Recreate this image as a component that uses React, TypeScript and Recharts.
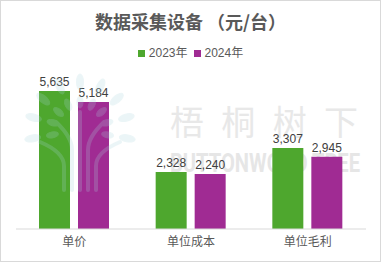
import React from "react";
import { BarChart, Bar, XAxis, YAxis, LabelList } from "recharts";

// Unit economics of data acquisition equipment (yuan per unit)
const categories = ["单价", "单位成本", "单位毛利"];
const values2023 = [5635, 2328, 3307];
const values2024 = [5184, 2240, 2945];
const seriesNames = ["2023年", "2024年"];
const seriesColors = ["#4EA72E", "#A02B93"];

const title = "数据采集设备 （元/台）";
const watermarkCn = "梧桐树下";
const watermarkEn = "BUTTONWOOD TREE";

const data = categories.map((name, i) => ({
  name,
  y2023: values2023[i],
  y2024: values2024[i],
}));

const FONT = '"Liberation Sans", "Noto Sans CJK SC", sans-serif';
const CJK = '"Noto Sans CJK SC", "Liberation Sans", sans-serif';

const fmt = (v: any) => Number(v).toLocaleString("en-US");

// Simplified tree emblem drawn faintly over the first group
function TreeEmblem() {
  const cx = 80;
  const cy = 130;
  const leaves: React.ReactNode[] = [];
  const angles = [-165, -140, -115, -90, -65, -40, -15, 10, 170];
  angles.forEach((a, i) => {
    const r = (a * Math.PI) / 180;
    [28, 48].forEach((d, j) => {
      const x = cx + Math.cos(r) * d;
      const y = cy + Math.sin(r) * d;
      leaves.push(
        <ellipse
          key={`${i}-${j}`}
          cx={x}
          cy={y}
          rx={j ? 8 : 6}
          ry={j ? 3.5 : 3}
          transform={`rotate(${a} ${x} ${y})`}
        />
      );
    });
  });
  return (
    <svg
      width={381}
      height={262}
      style={{ position: "absolute", left: 0, top: 0, pointerEvents: "none" }}
    >
      <g fill="#a9d6de" stroke="#a9d6de" opacity={0.22}>
        {leaves}
        <g fill="none" strokeWidth={4} strokeLinecap="round">
          <path d={`M${cx - 8} 190 L${cx - 8} 150 Q${cx - 8} 137 ${cx - 24} 122`} />
          <path d={`M${cx} 190 L${cx} 112`} />
          <path d={`M${cx + 8} 190 L${cx + 8} 150 Q${cx + 8} 137 ${cx + 24} 122`} />
          <path d={`M${cx - 16} 190 L${cx - 16} 166 Q${cx - 16} 152 ${cx - 40} 142`} />
          <path d={`M${cx + 16} 190 L${cx + 16} 166 Q${cx + 16} 152 ${cx + 40} 142`} />
        </g>
      </g>
    </svg>
  );
}

export default function App() {
  return (
    <div
      style={{
        position: "fixed",
        left: 0,
        top: 0,
        width: 381,
        height: 262,
        background: "#ffffff",
        overflow: "hidden",
      }}
    >
      {/* background watermark text */}
      <svg width={381} height={262} style={{ position: "absolute", left: 0, top: 0 }}>
        <text
          x={170}
          y={135}
          fontFamily={CJK}
          fontSize={34}
          fill="#e8e8e8"
          textLength={188}
          lengthAdjust="spacing"
        >
          {watermarkCn}
        </text>
        <text
          x={170}
          y={172}
          fontFamily='"Roboto", "Liberation Sans", sans-serif'
          fontWeight={700}
          fontSize={26}
          fill="#e6e6e6"
          textLength={190}
          lengthAdjust="spacingAndGlyphs"
        >
          {watermarkEn}
        </text>
      </svg>

      <div style={{ position: "absolute", left: 0, top: 0 }}>
        <BarChart
          width={381}
          height={262}
          data={data}
          margin={{ top: 82, right: 15, bottom: 0, left: 16 }}
          barGap={8}
        >
          <XAxis
            dataKey="name"
            axisLine={{ stroke: "#d9d9d9" }}
            tickLine={false}
            height={33}
            tick={{ fill: "#595959", fontSize: 12, fontFamily: CJK }}
          />
          <YAxis hide domain={[0, 6000]} />
          <Bar
            dataKey="y2023"
            name={seriesNames[0]}
            fill={seriesColors[0]}
            barSize={31}
            isAnimationActive={false}
          >
            <LabelList
              dataKey="y2023"
              position="top"
              formatter={fmt}
              fill="#404040"
              fontSize={12}
              fontFamily={FONT}
            />
          </Bar>
          <Bar
            dataKey="y2024"
            name={seriesNames[1]}
            fill={seriesColors[1]}
            barSize={31}
            isAnimationActive={false}
          >
            <LabelList
              dataKey="y2024"
              position="top"
              formatter={fmt}
              fill="#404040"
              fontSize={12}
              fontFamily={FONT}
            />
          </Bar>
        </BarChart>
      </div>

      <TreeEmblem />

      {/* title */}
      <div
        style={{
          position: "absolute",
          left: 0,
          top: 11,
          width: 381,
          textAlign: "center",
          fontFamily: CJK,
          fontWeight: 700,
          fontSize: 18,
          lineHeight: "20px",
          color: "#595959",
          whiteSpace: "pre",
        }}
      >
        {title}
      </div>

      {/* legend */}
      <div
        style={{
          position: "absolute",
          left: 0,
          top: 45,
          width: 381,
          display: "flex",
          justifyContent: "center",
          alignItems: "center",
          gap: 6,
          fontFamily: FONT,
          fontSize: 12,
          lineHeight: "16px",
          color: "#595959",
        }}
      >
        {seriesNames.map((n, i) => (
          <div key={n} style={{ display: "flex", alignItems: "center", gap: 4 }}>
            <span
              style={{ width: 7, height: 7, background: seriesColors[i], display: "inline-block" }}
            />
            <span>{n}</span>
          </div>
        ))}
      </div>

      {/* frame */}
      <div
        style={{
          position: "absolute",
          left: 0,
          top: 0,
          width: 381,
          height: 262,
          boxSizing: "border-box",
          border: "1px solid #d9d9d9",
          pointerEvents: "none",
        }}
      />
    </div>
  );
}
